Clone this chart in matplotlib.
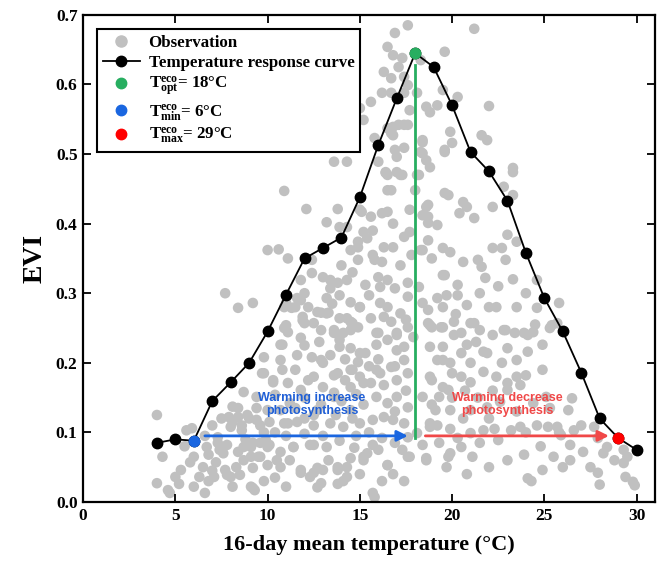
import numpy as np
import matplotlib
matplotlib.use("Agg")
import matplotlib.pyplot as plt
from matplotlib.lines import Line2D

plt.rcParams["font.family"] = ["Liberation Serif", "DejaVu Serif"]
plt.rcParams["font.weight"] = "bold"
plt.rcParams["mathtext.fontset"] = "custom"
plt.rcParams["mathtext.rm"] = "Liberation Serif:bold"
plt.rcParams["mathtext.bf"] = "Liberation Serif:bold"
plt.rcParams["mathtext.it"] = "Liberation Serif:bold"

# temperature response curve (1 degree bins)
curve_temp = [4, 5, 6, 7, 8, 9, 10, 11, 12, 13, 14, 15, 16, 17, 18, 19, 20, 21, 22,
              23, 24, 25, 26, 27, 28, 29, 30]
curve_evi = [0.085, 0.090, 0.088, 0.145, 0.172, 0.200, 0.245, 0.298, 0.350, 0.365,
             0.380, 0.438, 0.513, 0.580, 0.645, 0.625, 0.570, 0.503, 0.475, 0.433,
             0.358, 0.293, 0.245, 0.186, 0.120, 0.092, 0.075]

t_opt, t_min, t_max = 18, 6, 29

observations = [
    (4.0, 0.125), (5.6, 0.103), (5.9, 0.106), (4.3, 0.065), (4.0, 0.027), (5.0, 0.036),
    (5.3, 0.046), (5.8, 0.057), (6.0, 0.022), (6.3, 0.036), (6.5, 0.050), (6.7, 0.079),
    (6.8, 0.068), (7.3, 0.093), (7.2, 0.057), (7.4, 0.075), (7.7, 0.046), (8.0, 0.036),
    (7.5, 0.120), (7.9, 0.122), (8.1, 0.115), (8.1, 0.137), (8.4, 0.135), (8.6, 0.103),
    (8.9, 0.125), (7.8, 0.082), (8.4, 0.072), (8.7, 0.079), (9.1, 0.065), (8.5, 0.039),
    (9.2, 0.049), (9.1, 0.022), (8.1, 0.022), (9.6, 0.085), (9.9, 0.089), (9.4, 0.135),
    (9.6, 0.110), (7.1, 0.036), (6.6, 0.013), (4.7, 0.013), (5.2, 0.026), (6.8, 0.030),
    (9.3, 0.017), (12.7, 0.021), (13.8, 0.026), (14.1, 0.030), (15.8, 0.007), (24.3, 0.030),
    (29.9, 0.024), (4.6, 0.017),
    (11.1, 0.244), (10.7, 0.226), (11.8, 0.236), (10.7, 0.204), (9.8, 0.208), (9.7, 0.185),
    (10.3, 0.172), (8.7, 0.158), (9.4, 0.151), (8.4, 0.122), (9.0, 0.120), (8.0, 0.108),
    (10.0, 0.132), (11.1, 0.113), (11.5, 0.135), (12.5, 0.125), (7.3, 0.085), (7.6, 0.070),
    (9.1, 0.079), (10.0, 0.079), (10.7, 0.072), (11.4, 0.079), (12.5, 0.082), (8.7, 0.060),
    (9.6, 0.065), (11.8, 0.042), (12.5, 0.042), (13.0, 0.046), (14.3, 0.036), (9.2, 0.020),
    (7.8, 0.039), (15.2, 0.060), (13.8, 0.050), (12.5, 0.257), (13.6, 0.243), (14.5, 0.247),
    (15.0, 0.214), (13.9, 0.223), (12.9, 0.204), (12.5, 0.180), (13.6, 0.182), (14.6, 0.190),
    (14.5, 0.165), (13.6, 0.157), (15.2, 0.171),
    (10.9, 0.447), (12.1, 0.421), (13.8, 0.421), (13.2, 0.402), (13.9, 0.395), (15.2, 0.388),
    (15.4, 0.379), (14.9, 0.374), (10.0, 0.362), (10.6, 0.363), (11.1, 0.350), (12.4, 0.348),
    (14.5, 0.362), (14.9, 0.348), (15.7, 0.355), (15.8, 0.348), (16.3, 0.366), (16.8, 0.366),
    (17.4, 0.381), (17.7, 0.388), (15.0, 0.420), (15.6, 0.410), (16.2, 0.415), (16.5, 0.417),
    (16.5, 0.448), (17.7, 0.420), (16.5, 0.470), (17.3, 0.470), (18.1, 0.470), (18.6, 0.424),
    (18.7, 0.410), (18.7, 0.376), (18.9, 0.350), (18.4, 0.362), (19.5, 0.365), (19.8, 0.441),
    (19.5, 0.326), (12.4, 0.329), (13.0, 0.323), (13.4, 0.319), (13.8, 0.315), (14.3, 0.319),
    (14.6, 0.330), (11.8, 0.319), (11.6, 0.293), (13.4, 0.307), (13.2, 0.293), (13.9, 0.297),
    (14.5, 0.287), (15.0, 0.280), (15.5, 0.297), (16.0, 0.323), (16.5, 0.319), (16.1, 0.309),
    (16.9, 0.307), (17.6, 0.315), (17.6, 0.295), (18.2, 0.309), (18.4, 0.286), (19.2, 0.293),
    (16.1, 0.286), (9.2, 0.286), (11.0, 0.286), (11.5, 0.280), (11.9, 0.266), (12.7, 0.273),
    (13.2, 0.271), (13.9, 0.264), (14.5, 0.259), (14.9, 0.251), (15.6, 0.264), (16.3, 0.266),
    (16.7, 0.259), (17.2, 0.271), (17.6, 0.251), (18.7, 0.276), (18.9, 0.251), (12.0, 0.257),
    (12.9, 0.247), (13.6, 0.247), (14.1, 0.243), (16.0, 0.243), (17.0, 0.240), (10.9, 0.250),
    (10.8, 0.226), (11.6, 0.211), (12.4, 0.208), (13.0, 0.200), (13.4, 0.211), (13.9, 0.233),
    (14.5, 0.221), (14.9, 0.201), (15.3, 0.214), (15.9, 0.226), (16.5, 0.233), (17.0, 0.218),
    (17.4, 0.204), (16.7, 0.194), (15.9, 0.190), (14.5, 0.190), (13.8, 0.185), (15.0, 0.180),
    (15.6, 0.171), (16.3, 0.168), (17.0, 0.175), (17.6, 0.185), (9.8, 0.185), (10.3, 0.175),
    (11.1, 0.171), (12.2, 0.175), (15.9, 0.151), (16.5, 0.142), (17.0, 0.151), (17.6, 0.136),
    (16.3, 0.122), (15.7, 0.118), (16.8, 0.118), (17.4, 0.113), (9.4, 0.118), (10.1, 0.115),
    (10.9, 0.113), (11.6, 0.115), (12.5, 0.110), (13.4, 0.113), (14.1, 0.108), (15.0, 0.113),
    (9.2, 0.085), (10.1, 0.082), (11.4, 0.079), (12.3, 0.082), (13.2, 0.079), (9.5, 0.065),
    (10.0, 0.053), (10.7, 0.050), (11.8, 0.046), (12.7, 0.049), (12.3, 0.036), (13.8, 0.046),
    (14.3, 0.050), (15.2, 0.065), (16.5, 0.053), (17.6, 0.065), (18.6, 0.063), (12.9, 0.027),
    (15.7, 0.013), (10.4, 0.154), (11.2, 0.142), (10.7, 0.132), (12.7, 0.132), (14.5, 0.132),
    (13.6, 0.151), (11.8, 0.161), (17.4, 0.223), (17.0, 0.243), (15.9, 0.243), (17.9, 0.237),
    (18.8, 0.223), (18.9, 0.175), (18.4, 0.151), (18.8, 0.113), (19.5, 0.204), (19.8, 0.161),
    (17.6, 0.093), (18.1, 0.099), (19.8, 0.065),
    (16.4, 0.473), (17.2, 0.470), (16.7, 0.448), (18.0, 0.448), (19.6, 0.444), (20.6, 0.431),
    (20.8, 0.424), (20.4, 0.415), (21.2, 0.408), (22.2, 0.424), (22.8, 0.453), (23.3, 0.441),
    (23.3, 0.474), (18.7, 0.427), (18.4, 0.412), (18.7, 0.401), (19.2, 0.398), (18.3, 0.362),
    (19.9, 0.359), (20.6, 0.345), (21.4, 0.348), (21.6, 0.338), (22.2, 0.365), (22.7, 0.365),
    (22.9, 0.348), (23.0, 0.384), (23.5, 0.374), (19.6, 0.326), (20.3, 0.312), (21.8, 0.322),
    (24.6, 0.319), (24.0, 0.300), (19.7, 0.297), (20.3, 0.297), (20.8, 0.283), (22.0, 0.280),
    (22.4, 0.280), (24.6, 0.279), (25.8, 0.286), (18.7, 0.257), (19.4, 0.251), (20.1, 0.259),
    (21.0, 0.257), (22.9, 0.247), (23.9, 0.243), (25.4, 0.254), (20.5, 0.243),
    (18.8, 0.254), (19.5, 0.251), (20.1, 0.240), (20.8, 0.226), (20.5, 0.214), (19.5, 0.223),
    (19.2, 0.204), (19.9, 0.200), (21.2, 0.257), (21.7, 0.216), (21.9, 0.214), (22.8, 0.247),
    (23.4, 0.243), (24.1, 0.240), (24.4, 0.244), (24.9, 0.226), (24.1, 0.216), (23.5, 0.204),
    (24.9, 0.190), (25.3, 0.250), (25.7, 0.257), (18.8, 0.180), (19.5, 0.165), (20.5, 0.180),
    (21.0, 0.172), (21.7, 0.187), (22.4, 0.180), (23.0, 0.171), (23.5, 0.180), (24.0, 0.182),
    (23.0, 0.161), (23.7, 0.168), (19.3, 0.151), (19.1, 0.132), (19.9, 0.132), (21.0, 0.132),
    (21.9, 0.136), (22.6, 0.144), (24.4, 0.142), (25.1, 0.151), (25.3, 0.135), (26.3, 0.132),
    (26.5, 0.149), (18.8, 0.108), (20.3, 0.092), (21.0, 0.099), (21.7, 0.103), (22.5, 0.089),
    (23.2, 0.103), (23.7, 0.108), (24.6, 0.110), (25.2, 0.108), (25.7, 0.108), (25.9, 0.096),
    (26.6, 0.103), (27.0, 0.110), (27.7, 0.108), (27.9, 0.092), (28.4, 0.079), (28.2, 0.070),
    (28.8, 0.060), (29.3, 0.075), (29.5, 0.065), (29.3, 0.056), (26.4, 0.082), (27.1, 0.072),
    (26.4, 0.060), (27.5, 0.050), (27.9, 0.042), (29.4, 0.036), (29.8, 0.029), (25.5, 0.065),
    (23.9, 0.068), (24.9, 0.046), (24.1, 0.034), (19.9, 0.070), (20.5, 0.079), (21.1, 0.065),
    (19.7, 0.050), (18.6, 0.060), (17.7, 0.065), (16.5, 0.053), (15.7, 0.082), (15.4, 0.070),
    (25.8, 0.100), (21.5, 0.247), (23.0, 0.221),
    (17.6, 0.685), (16.9, 0.674), (16.5, 0.654), (16.8, 0.642), (17.3, 0.638), (17.1, 0.625),
    (16.3, 0.618), (16.7, 0.609), (17.4, 0.611), (16.2, 0.588), (16.7, 0.588), (17.6, 0.599),
    (15.6, 0.575), (15.0, 0.566), (15.2, 0.549), (13.5, 0.537), (13.5, 0.520), (11.9, 0.523),
    (15.8, 0.523), (16.7, 0.530), (17.1, 0.542), (17.6, 0.542), (17.7, 0.563), (18.1, 0.588),
    (18.6, 0.568), (19.2, 0.570), (19.5, 0.592), (19.6, 0.647), (18.3, 0.635), (16.9, 0.506),
    (17.4, 0.509), (18.4, 0.517), (18.4, 0.501), (19.6, 0.506), (13.6, 0.489), (14.3, 0.489),
    (16.4, 0.474), (17.0, 0.474), (18.2, 0.470), (18.8, 0.481), (16.0, 0.489), (16.5, 0.537),
    (17.0, 0.496), (21.2, 0.680), (20.3, 0.582), (22.0, 0.569), (18.8, 0.560), (19.9, 0.532),
    (20.0, 0.516), (19.6, 0.503), (21.6, 0.527), (21.9, 0.520), (23.3, 0.480), (18.4, 0.520),
    (18.3, 0.503), (18.6, 0.491), (17.4, 0.588), (16.8, 0.539), (17.4, 0.542), (16.8, 0.527),
    (7.7, 0.300), (8.4, 0.279), (11.8, 0.290), (12.2, 0.280), (10.9, 0.280), (11.3, 0.279),
    (12.9, 0.272), (13.3, 0.272), (14.3, 0.264), (14.6, 0.257), (15.0, 0.280), (11.0, 0.254),
    (11.9, 0.261), (15.1, 0.417), (14.9, 0.366),
    # denser core of the cloud
    (14.8, 0.095), (15.5, 0.100), (16.2, 0.092), (16.9, 0.085), (17.3, 0.075), (16.0, 0.075),
    (14.7, 0.078), (13.9, 0.088), (13.0, 0.095), (12.0, 0.098), (11.0, 0.095), (10.4, 0.100),
    (9.8, 0.100), (14.5, 0.063), (16.8, 0.040), (17.4, 0.030), (16.2, 0.030), (15.0, 0.040),
    (13.3, 0.060), (11.2, 0.060), (10.4, 0.035), (11.0, 0.022), (14.0, 0.145), (15.2, 0.140),
    (14.8, 0.155), (16.9, 0.130), (17.5, 0.160), (16.1, 0.185), (14.2, 0.175), (13.0, 0.165),
    (12.9, 0.140), (12.0, 0.150), (11.5, 0.190), (10.8, 0.190), (12.0, 0.225), (12.8, 0.230),
    (14.2, 0.205), (15.5, 0.195), (16.0, 0.205), (16.9, 0.195), (17.5, 0.262), (16.5, 0.280),
    (15.3, 0.312), (14.0, 0.340), (12.0, 0.300), (13.5, 0.285), (17.2, 0.340), (16.2, 0.345),
    (17.8, 0.355), (15.7, 0.390), (16.8, 0.400), (14.3, 0.395), (8.6, 0.110), (7.0, 0.110),
    (6.6, 0.095), (6.0, 0.065), (5.5, 0.080), (7.0, 0.045), (8.3, 0.050), (9.8, 0.030),
    (8.8, 0.090), (10.5, 0.060), (12.0, 0.120), (13.7, 0.125), (14.6, 0.120), (18.4, 0.082),
    (18.9, 0.140), (19.2, 0.110), (19.3, 0.085), (20.0, 0.150), (20.6, 0.120), (19.9, 0.105),
    (20.7, 0.160), (21.4, 0.150), (22.2, 0.160), (22.0, 0.120), (21.5, 0.085), (22.3, 0.105),
    (23.5, 0.130), (24.0, 0.100), (24.8, 0.080), (23.0, 0.060), (22.0, 0.050), (20.8, 0.040),
    (26.0, 0.050), (28.0, 0.025), (19.5, 0.280), (20.2, 0.270), (21.5, 0.300), (22.5, 0.310),
    (21.3, 0.230), (22.2, 0.240), (20.0, 0.185), (21.0, 0.200), (22.7, 0.200), (23.5, 0.280),
    (24.5, 0.255), (23.3, 0.320),
]

obs = np.array(observations)

grey = "#c0c0c0"
green = "#27ae60"
blue = "#1a66e0"
red = "#ff0000"
arrow_red = "#f04848"
text_blue = "#1f5fd6"

fig = plt.figure(figsize=(6.65, 5.72), dpi=100)
ax = fig.add_axes([0.125, 0.1224, 0.86, 0.8516])

ax.scatter(obs[:, 0], obs[:, 1], s=58, color=grey, edgecolors="none", zorder=1)

ax.plot([t_opt, t_opt], [0.092, 0.628], color=green, lw=2, zorder=2)

ax.plot(curve_temp, curve_evi, color="black", lw=1.3, marker="o", markersize=7.5,
        markerfacecolor="black", markeredgecolor="black", zorder=3)

i_opt = curve_temp.index(t_opt)
i_min = curve_temp.index(t_min)
i_max = curve_temp.index(t_max)
ax.plot(t_opt, curve_evi[i_opt], "o", color=green, markersize=7.5, zorder=4)
ax.plot(t_min, curve_evi[i_min], "o", color=blue, markersize=7.5, zorder=4)
ax.plot(t_max, curve_evi[i_max], "o", color=red, markersize=7.5, zorder=4)

# arrows
ax.annotate("", xy=(17.6, 0.095), xytext=(6.6, 0.095),
            arrowprops=dict(arrowstyle="-|>", color=blue, lw=2, mutation_scale=16,
                            shrinkA=0, shrinkB=0), zorder=5)
ax.annotate("", xy=(28.5, 0.095), xytext=(18.55, 0.095),
            arrowprops=dict(arrowstyle="-|>", color=arrow_red, lw=2, mutation_scale=16,
                            shrinkA=0, shrinkB=0), zorder=5)

ax.text(12.4, 0.14, "Warming increase\nphotosynthesis", color=text_blue, ha="center",
        va="center", fontsize=9, fontweight="bold", family=["Liberation Sans"],
        linespacing=1.1, zorder=6)
ax.text(23.0, 0.14, "Warming decrease\nphotosynthesis", color=arrow_red, ha="center",
        va="center", fontsize=9, fontweight="bold", family=["Liberation Sans"],
        linespacing=1.1, zorder=6)

ax.set_xlim(0, 31)
ax.set_ylim(0, 0.7)
ax.set_xticks(range(0, 31, 5))
ax.set_yticks(np.arange(0, 0.71, 0.1))
ax.set_yticklabels([f"{v:.1f}" for v in np.arange(0, 0.71, 0.1)])
ax.tick_params(direction="in", length=6, width=1.3, top=True, right=True,
               labelsize=12.5, pad=4)
for lab in ax.get_xticklabels() + ax.get_yticklabels():
    lab.set_fontweight("bold")
for sp in ax.spines.values():
    sp.set_linewidth(1.6)

ax.set_xlabel("16-day mean temperature (°C)", fontsize=16, fontweight="bold", labelpad=8)
ax.set_ylabel("EVI", fontsize=20, fontweight="bold", labelpad=6)

handles = [
    Line2D([], [], ls="none", marker="o", markersize=8, color=grey),
    Line2D([], [], color="black", lw=1.3, marker="o", markersize=7.5),
    Line2D([], [], ls="none", marker="o", markersize=7.5, color=green),
    Line2D([], [], ls="none", marker="o", markersize=7.5, color=blue),
    Line2D([], [], ls="none", marker="o", markersize=7.5, color=red),
]
labels = [
    "Observation",
    "Temperature response curve",
    r"$\mathbf{T^{eco}_{opt}}$= 18°C",
    r"$\mathbf{T^{eco}_{min}}$= 6°C",
    r"$\mathbf{T^{eco}_{max}}$= 29°C",
]
leg = ax.legend(handles, labels, loc="upper left", bbox_to_anchor=(0.024, 0.97),
                borderaxespad=0, fancybox=False, framealpha=1, edgecolor="black",
                prop={"family": "Liberation Serif", "weight": "bold", "size": 12.2},
                handlelength=2.2, labelspacing=0.22, borderpad=0.35, handletextpad=0.5)
leg.get_frame().set_linewidth(1.5)
leg.set_zorder(7)

fig.savefig("out.png", dpi=100)
